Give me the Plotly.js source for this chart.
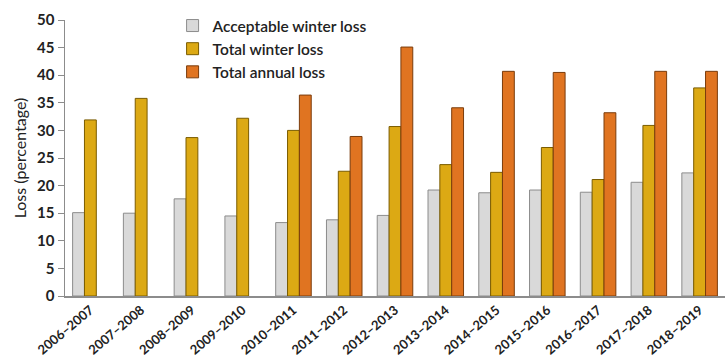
<!DOCTYPE html>
<html><head><meta charset="utf-8">
<script src="https://cdn.plot.ly/plotly-3.0.1.min.js"></script>
<style>html,body{margin:0;padding:0;background:#fff}#chart{width:726px;height:360px}</style>
</head><body><div id="chart"></div>
<script>
const categories = ["2006–2007","2007–2008","2008–2009","2009–2010","2010–2011","2011–2012","2012–2013","2013–2014","2014–2015","2015–2016","2016–2017","2017–2018","2018–2019"];
const acceptableWinter = [15.1,15.0,17.6,14.5,13.3,13.8,14.6,19.2,18.7,19.2,18.8,20.6,22.3];
const totalWinter = [31.9,35.8,28.7,32.2,30.0,22.6,30.7,23.8,22.4,26.9,21.1,30.9,37.7];
const totalAnnual = [null,null,null,null,36.4,28.9,45.1,34.1,40.7,40.5,33.2,40.7,40.7];
const yTicks = [0,5,10,15,20,25,30,35,40,45,50];

const fontFam = "Lato, 'Open Sans', sans-serif";
const traces = [
  {type:'bar', name:'Acceptable winter loss', x:categories, y:acceptableWinter,
   marker:{color:'#d9d9d9', line:{color:'#8c8c8c', width:1}}},
  {type:'bar', name:'Total winter loss', x:categories, y:totalWinter,
   marker:{color:'#dca914', line:{color:'#7a5c00', width:1}}},
  {type:'bar', name:'Total annual loss', x:categories, y:totalAnnual,
   marker:{color:'#e07421', line:{color:'#7a3c0c', width:1}}}
];
const layout = {
  width:726, height:360,
  margin:{l:65, r:1, t:20, b:64},
  paper_bgcolor:'#fff', plot_bgcolor:'#fff',
  font:{family:fontFam, size:14, color:'#222'},
  barmode:'group', bargap:0.3, bargroupgap:0,
  showlegend:true,
  legend:{x:0.163, y:1.04, xanchor:'left', yanchor:'top', bgcolor:'rgba(0,0,0,0)',
          font:{family:fontFam, size:15.5, color:'#222', weight:600}, tracegroupgap:0, itemwidth:30},
  xaxis:{type:'category', tickangle:-40, showline:true, linecolor:'#8c8c8c', linewidth:1.5,
         ticks:'', showgrid:false, zeroline:false, automargin:false,
         tickfont:{family:fontFam, size:13, color:'#222', weight:'bold'}},
  yaxis:{range:[0,50], tickvals:yTicks, ticks:'outside', ticklen:6, tickcolor:'#8c8c8c',
         showline:true, linecolor:'#8c8c8c', linewidth:1.5, showgrid:false, zeroline:false,
         automargin:false,
         tickfont:{family:fontFam, size:15, color:'#222', weight:'bold'},
         title:{text:'Loss (percentage)', font:{family:fontFam, size:16, color:'#222'}, standoff:6}}
};
Plotly.newPlot('chart', traces, layout, {displayModeBar:false, staticPlot:true});
</script></body></html>
